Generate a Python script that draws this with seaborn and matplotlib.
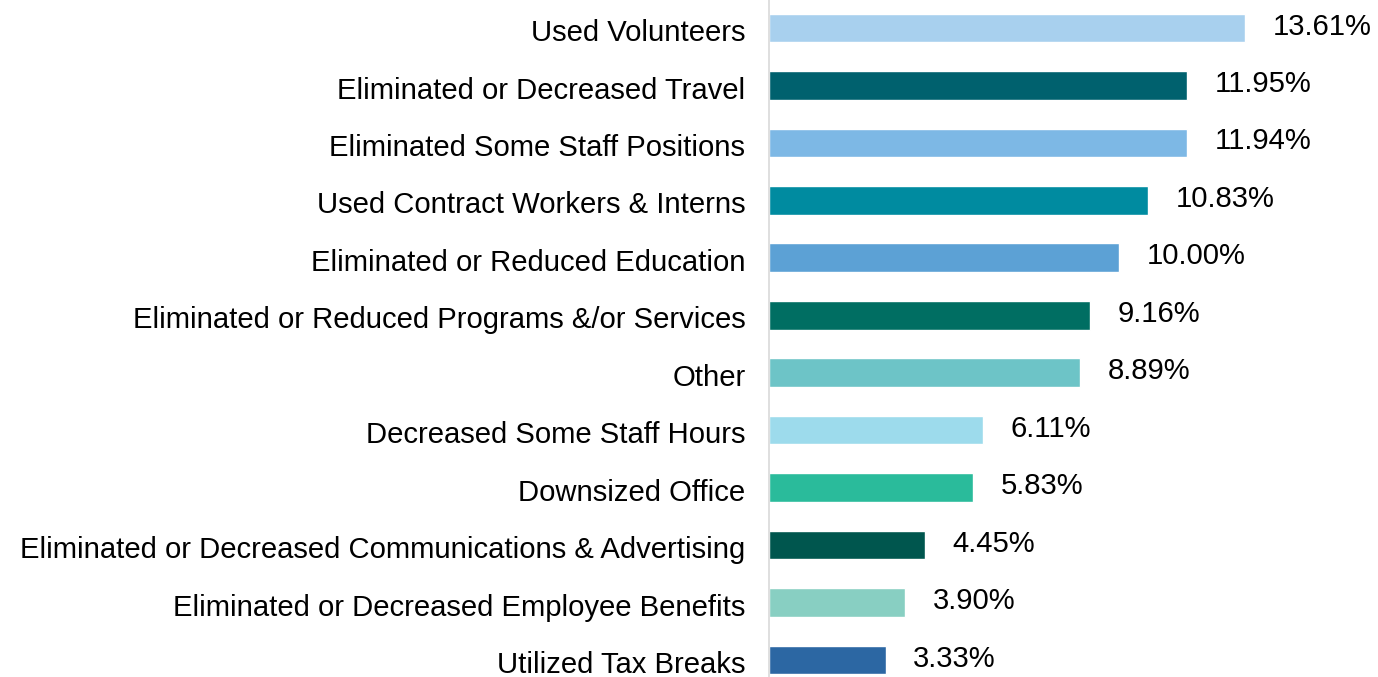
import matplotlib
matplotlib.use("Agg")
import matplotlib.pyplot as plt
import matplotlib.transforms as mtransforms
import seaborn as sns
import pandas as pd

categories = [
    "Used Volunteers",
    "Eliminated or Decreased Travel",
    "Eliminated Some Staff Positions",
    "Used Contract Workers & Interns",
    "Eliminated or Reduced Education",
    "Eliminated or Reduced Programs &/or Services",
    "Other",
    "Decreased Some Staff Hours",
    "Downsized Office",
    "Eliminated or Decreased Communications & Advertising",
    "Eliminated or Decreased Employee Benefits",
    "Utilized Tax Breaks",
]
values = [13.61, 11.95, 11.94, 10.83, 10.00, 9.16, 8.89, 6.11, 5.83, 4.45, 3.90, 3.33]
bar_colors = ["#A8D0EE", "#00616E", "#7DB8E5", "#008BA0", "#5CA1D5", "#006E62",
              "#6DC4C7", "#9DDBEC", "#2ABB9B", "#00564E", "#88CFC2", "#2C67A3"]

df = pd.DataFrame({"category": categories, "value": values})

sns.set_style("white")
plt.rcParams["font.family"] = ["Liberation Sans", "DejaVu Sans"]

fig = plt.figure(figsize=(13.78, 6.77), dpi=100)
ax = fig.add_axes([769 / 1378, 0, 609 / 1378, 1])

sns.barplot(data=df, y="category", x="value", hue="category", palette=bar_colors,
            legend=False, width=0.5, saturation=1, ax=ax)

for i, v in enumerate(values):
    ax.annotate(f"{v:.2f}%", xy=(v, i), xytext=(20, 1), textcoords="offset points",
                va="center", ha="left", fontsize=21.1, color="black")

ax.set_xlim(0, 609 / 35)
ax.set_ylim(11.297, -0.487)
ax.set_xlabel("")
ax.set_ylabel("")
ax.set_xticks([])
ax.tick_params(axis="y", length=0, pad=17, labelsize=21.1, labelcolor="black")
# left labels sit a little below bar centre in the original
shift = mtransforms.ScaledTranslation(0, -1.5 / 72, fig.dpi_scale_trans)
for lbl in ax.get_yticklabels():
    lbl.set_transform(lbl.get_transform() + shift)
for s in ["top", "right", "bottom"]:
    ax.spines[s].set_visible(False)
ax.spines["left"].set_color("#D9D9D9")
ax.spines["left"].set_linewidth(1.2)

fig.savefig("out.png", dpi=100)
